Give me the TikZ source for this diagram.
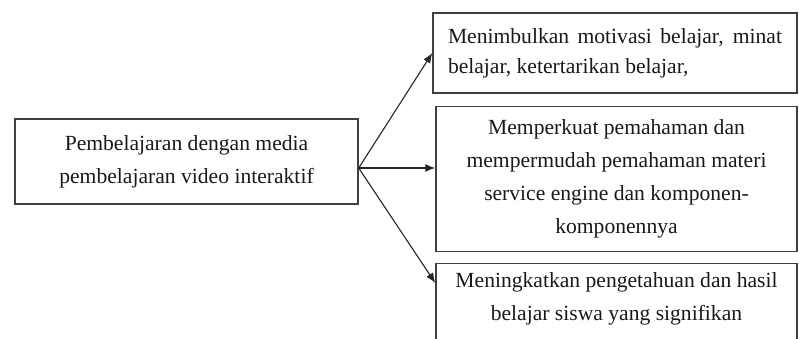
\documentclass[tikz,border=0pt]{standalone}
\usepackage{fontspec}
\setmainfont{Liberation Serif}
\usetikzlibrary{arrows.meta, calc}

\begin{document}
\begin{tikzpicture}[x=1pt, y=-1pt,
	box/.style={draw=black!75, line width=1.4pt, rectangle, inner sep=0pt},
	teks/.style={font=\fontsize{21.6}{33}\selectfont, text=black!90},
	arr/.style={draw=black!85, line width=1.1pt, -{Latex[length=10pt, width=8pt]}}]
	% Frame:
	\useasboundingbox (0, 0) rectangle (799, 338);
	\clip (0, 0) rectangle (799, 338);
	% Boxes:
	\node[box, teks, minimum width=343, minimum height=85, align=center] (media) at (186.5, 161.5) {Pembelajaran dengan media\\pembelajaran video interaktif};
	\node[box, teks, font=\fontsize{21.6}{30}\selectfont, minimum width=364, minimum height=80, text width=334, align=justify] (motivasi) at (615, 53) {Menimbulkan motivasi belajar, minat belajar, ketertarikan belajar,};
	\node[box, teks, minimum width=361, minimum height=145, align=center] (paham) at (616.5, 179) {Memperkuat pemahaman dan\\mempermudah pemahaman materi\\service engine dan komponen-\\komponennya};
	\node[box, minimum width=361, minimum height=100, anchor=north] (hasil) at (616.5, 263) {};
	\node[teks, align=center] (hasilteks) at (616.5, 299) {Meningkatkan pengetahuan dan hasil\\belajar siswa yang signifikan};
	% Arrows:
	\coordinate (pangkal) at ($(media.east)+(0, 6.5)$);
	\draw[arr] (pangkal) -- (motivasi.west);
	\draw[arr] (pangkal) -- (pangkal -| paham.west);
	\draw[arr] (pangkal) -- ($(hasil.north west)+(0, 20)$);
\end{tikzpicture}
\end{document}
